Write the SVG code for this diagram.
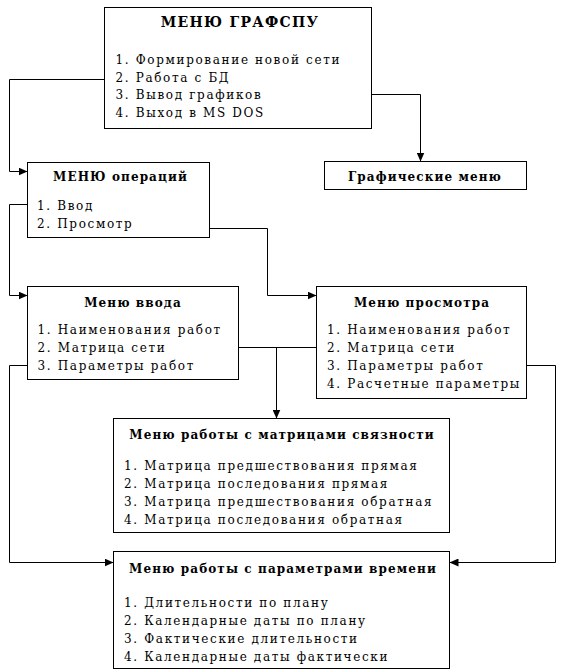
<svg xmlns="http://www.w3.org/2000/svg" width="564" height="672" viewBox="0 0 564 672">
<defs>
<style>
.box{fill:#fff;stroke:#000;stroke-width:1}
.t{font-family:"DejaVu Serif","Liberation Serif",serif;font-size:12px;letter-spacing:1.65px;fill:#000}
.h{font-family:"DejaVu Serif","Liberation Serif",serif;font-size:12px;font-weight:bold;letter-spacing:1.1px;fill:#000;text-anchor:middle}
.h1{font-size:14px;letter-spacing:1.3px}
.c{fill:none;stroke:#000;stroke-width:1}
</style>
<marker id="ar" markerUnits="userSpaceOnUse" markerWidth="9" markerHeight="8" refX="9" refY="4" orient="auto">
<path d="M0,0 L9,4 L0,8 z" fill="#000"/>
</marker>
</defs>
<rect width="564" height="672" fill="#fff"/>
<g id="connectors">
<polyline class="c" points="104.5,79.5 9.5,79.5 9.5,171.5 27.5,171.5" marker-end="url(#ar)"/>
<polyline class="c" points="371.5,94.5 420.5,94.5 420.5,161.5" marker-end="url(#ar)"/>
<polyline class="c" points="27.5,204.5 9.5,204.5 9.5,295.5 27.5,295.5" marker-end="url(#ar)"/>
<polyline class="c" points="209.5,228.5 267.5,228.5 267.5,295.5 316.5,295.5" marker-end="url(#ar)"/>
<polyline class="c" points="238.5,347.5 316.5,347.5"/>
<polyline class="c" points="276.5,347.5 276.5,418.5" marker-end="url(#ar)"/>
<polyline class="c" points="27.5,365.5 9.5,365.5 9.5,562.5 113.5,562.5" marker-end="url(#ar)"/>
<polyline class="c" points="526.5,365.5 555.5,365.5 555.5,562.5 449.5,562.5" marker-end="url(#ar)"/>
</g>
<g id="menu-grafspu">
<rect class="box" x="104.5" y="7.5" width="267" height="121"/>
<text class="h h1" x="240" y="27">МЕНЮ ГРАФСПУ</text>
<text class="t" x="115.5" y="64">1. Формирование новой сети</text>
<text class="t" x="115.5" y="81.7">2. Работа с БД</text>
<text class="t" x="115.5" y="99.3">3. Вывод графиков</text>
<text class="t" x="115.5" y="117">4. Выход в MS DOS</text>
</g>
<g id="menu-operations">
<rect class="box" x="27.5" y="162.5" width="182" height="75"/>
<text class="h" x="120.5" y="180.5">МЕНЮ операций</text>
<text class="t" x="37" y="210">1. Ввод</text>
<text class="t" x="37" y="228">2. Просмотр</text>
</g>
<g id="graphic-menu">
<rect class="box" x="324.5" y="161.5" width="202" height="28"/>
<text class="h" x="425" y="180.5">Графические меню</text>
</g>
<g id="input-menu">
<rect class="box" x="27.5" y="286.5" width="211" height="93"/>
<text class="h" x="133" y="306.5">Меню ввода</text>
<text class="t" x="37.5" y="333.5">1. Наименования работ</text>
<text class="t" x="37.5" y="351.5">2. Матрица сети</text>
<text class="t" x="37.5" y="369.5">3. Параметры работ</text>
</g>
<g id="view-menu">
<rect class="box" x="316.5" y="286.5" width="210" height="112"/>
<text class="h" x="422" y="306.5">Меню просмотра</text>
<text class="t" x="327" y="333.5">1. Наименования работ</text>
<text class="t" x="327" y="351.5">2. Матрица сети</text>
<text class="t" x="327" y="369.5">3. Параметры работ</text>
<text class="t" x="327" y="387.5">4. Расчетные параметры</text>
</g>
<g id="matrix-menu">
<rect class="box" x="113.5" y="418.5" width="336" height="114"/>
<text class="h" x="282" y="439">Меню работы с матрицами связности</text>
<text class="t" x="124" y="470">1. Матрица предшествования прямая</text>
<text class="t" x="124" y="488">2. Матрица последования прямая</text>
<text class="t" x="124" y="506">3. Матрица предшествования обратная</text>
<text class="t" x="124" y="524">4. Матрица последования обратная</text>
</g>
<g id="time-menu">
<rect class="box" x="113.5" y="551.5" width="336" height="117"/>
<text class="h" x="283" y="572.5">Меню работы с параметрами времени</text>
<text class="t" x="124" y="607">1. Длительности по плану</text>
<text class="t" x="124" y="625">2. Календарные даты по плану</text>
<text class="t" x="124" y="643">3. Фактические длительности</text>
<text class="t" x="124" y="661">4. Календарные даты фактически</text>
</g>
</svg>
